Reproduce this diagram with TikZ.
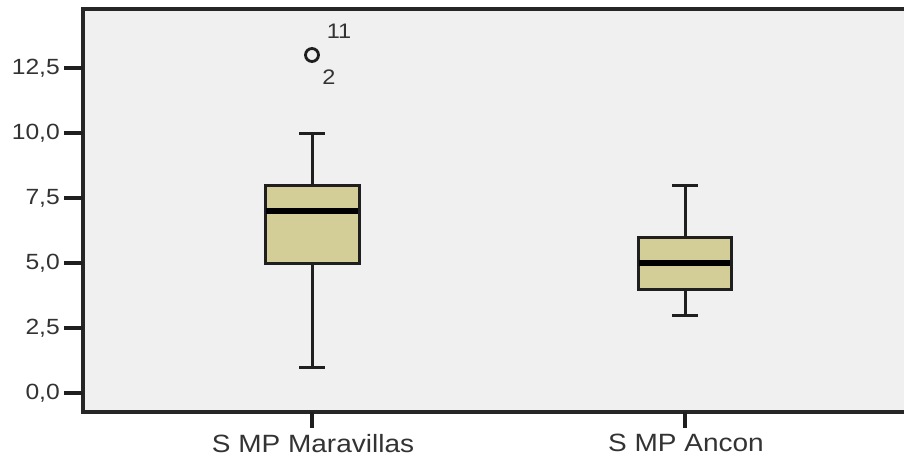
\documentclass[tikz,border=0pt]{standalone}
\usepackage{fontspec}
\setmainfont[FakeStretch=1.12]{Liberation Sans}
\begin{document}
\begin{tikzpicture}[x=1pt,y=-1pt,
  txt/.style={text=black!80, inner sep=0pt},
  ticklab/.style={txt, font=\fontsize{22}{22}\selectfont, anchor=east},
  catlab/.style={txt, font=\fontsize{25}{25}\selectfont, anchor=north},
  outlab/.style={txt, font=\fontsize{21}{21}\selectfont},
  frameline/.style={line width=3.4pt, black!85},
  boxline/.style={line width=3pt, black!88, fill=boxfill},
  whisk/.style={line width=3pt, black!88},
  medline/.style={line width=6pt, black},
  tickline/.style={line width=3.4pt, black!88}]
\definecolor{boxfill}{RGB}{211,206,151}
\definecolor{plotbg}{RGB}{240,240,240}
\useasboundingbox (0,0) rectangle (904,461);
\clip (0,0) rectangle (904,461);
% plot background and frame
\fill[plotbg] (83,9) rectangle (906,412);
\draw[frameline] (906,9) -- (83,9) -- (83,412) -- (906,412);
% y ticks and labels
\foreach \v/\t [count=\i] in {0/{0,0},2.5/{2,5},5/{5,0},7.5/{7,5},10/{10,0},12.5/{12,5}}{
  \draw[tickline] (64,{393-26*\v}) -- (83,{393-26*\v});
  \node[ticklab] (yl\i) at (60,{393-26*\v}) {\t};
}
% x ticks and labels
\draw[tickline] (312,412) -- (312,428);
\draw[tickline] (685,412) -- (685,428);
\node[catlab] (c1) at (313,434) {S MP Maravillas};
\node[catlab] (c2) at (686,434) {S MP Ancon};
% box 1: Maravillas
\draw[whisk] (312,367) -- (312,263);
\draw[whisk] (299,367) -- (325,367);
\draw[whisk] (312,133) -- (312,185);
\draw[whisk] (299,133) -- (325,133);
\draw[boxline] (265,185) rectangle (359,263);
\draw[medline] (266,211) -- (358,211);
% outlier
\draw[line width=2.8pt, black!88] (312,55) circle (6.5);
\node[outlab] (o11) at (339,31) {11};
\node[outlab] (o2) at (329,77) {2};
% box 2: Ancon
\draw[whisk] (685,315) -- (685,289);
\draw[whisk] (672,315) -- (698,315);
\draw[whisk] (685,185) -- (685,237);
\draw[whisk] (672,185) -- (698,185);
\draw[boxline] (638,237) rectangle (731,289);
\draw[medline] (639,263) -- (730,263);
\end{tikzpicture}
\end{document}
